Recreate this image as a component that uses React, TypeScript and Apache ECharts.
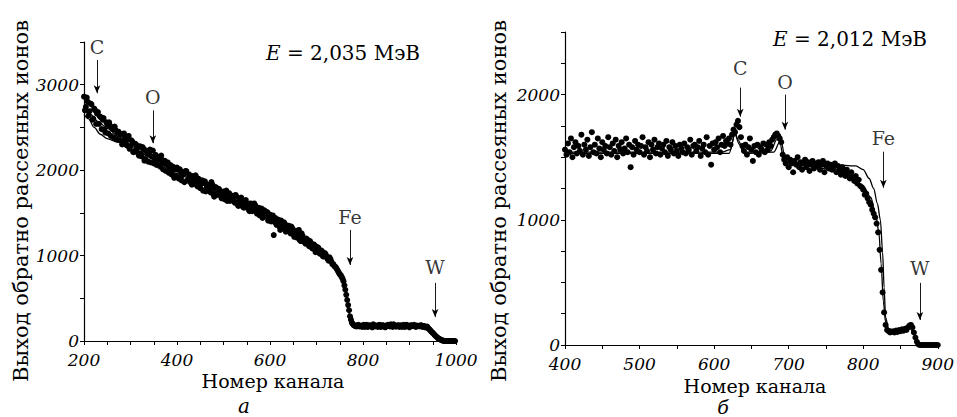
import React, { useEffect, useRef } from 'react';
import * as echarts from 'echarts';

// ---------- data ----------
const leftStart = 200;
const leftStep = 4;
const leftCounts = [
  2860, 2740, 2800, 2690, 2770, 2600, 2700, 2660, 2540, 2620,
  2590, 2470, 2560, 2430, 2520, 2500, 2380, 2470, 2440, 2350,
  2420, 2330, 2380, 2290, 2400, 2280, 2330, 2220, 2300, 2200,
  2280, 2160, 2250, 2130, 2200, 2190, 2090, 2230, 2140, 2060,
  2150, 2040, 2120, 2080, 1990, 2090, 2020, 1950, 2040, 1930,
  2030, 1900, 1980, 1940, 1860, 1990, 1880, 1920, 1830, 1900,
  1940, 1810, 1880, 1840, 1760, 1870, 1800, 1820, 1740, 1830,
  1690, 1800, 1730, 1760, 1670, 1750, 1700, 1640, 1730, 1660,
  1700, 1620, 1690, 1580, 1660, 1640, 1560, 1650, 1590, 1520,
  1600, 1540, 1590, 1490, 1560, 1520, 1440, 1530, 1480, 1410,
  1480, 1410, 1240, 1440, 1380, 1340, 1410, 1320, 1370, 1290,
  1350, 1260, 1320, 1220, 1290, 1250, 1180, 1260, 1200, 1140,
  1190, 1110, 1150, 1080, 1120, 1060, 1090, 1020, 1050, 990,
  1010, 960, 980, 930, 900, 870, 840, 800, 770, 730,
  650, 540, 420, 290, 215, 185, 175, 185, 170, 180,
  180, 165, 190, 170, 175, 160, 185, 175, 165, 190,
  170, 180, 160, 185, 175, 195, 165, 180, 170, 185,
  175, 165, 190, 170, 180, 160, 185, 175, 170, 180,
  175, 185, 165, 175, 160, 150, 130, 105, 85, 60,
  40, 25, 12, 5, 0, 0, 0, 0, 0, 0,
];
// second sweep of channels (202, 206, ...)
const leftStart2 = 202;
const leftCounts2 = [
  2700, 2850, 2640, 2780, 2590, 2720, 2540, 2680, 2630, 2480,
  2610, 2440, 2530, 2560, 2400, 2480, 2510, 2360, 2450, 2420,
  2300, 2430, 2310, 2360, 2250, 2350, 2210, 2310, 2260, 2170,
  2190, 2270, 2110, 2230, 2100, 2240, 2160, 2080, 2180, 2120,
  2060, 2170, 2010, 2110, 2060, 1970, 2060, 2000, 1910, 2010,
  1920, 2010, 1880, 1960, 1990, 1880, 1950, 1850, 1930, 1870,
  1830, 1900, 1790, 1880, 1850, 1750, 1830, 1780, 1860, 1720,
  1800, 1710, 1780, 1700, 1720, 1660, 1760, 1680, 1640, 1700,
  1640, 1710, 1600, 1630, 1680, 1570, 1620, 1610, 1540, 1610,
  1520, 1610, 1530, 1560, 1470, 1550, 1500, 1460, 1510, 1430,
  1400, 1470, 1390, 1360, 1420, 1300, 1350, 1390, 1280, 1330,
  1290, 1340, 1250, 1280, 1210, 1300, 1170, 1230, 1160, 1200,
  1130, 1170, 1090, 1130, 1040, 1100, 1030, 1060, 990, 1030,
  980, 940, 960, 900, 880, 860, 820, 780, 750, 700,
  600, 480, 360, 250, 200, 180, 170, 190, 175, 165,
  190, 175, 165, 185, 170, 195, 170, 180, 185, 165,
  185, 165, 175, 190, 170, 180, 195, 170, 180, 165,
  185, 175, 165, 190, 170, 180, 175, 190, 165, 175,
  170, 180, 175, 160, 170, 140, 115, 95, 70, 50,
  30, 18, 8, 2, 0, 0, 0, 0, 0, 0,
];

const leftCurveA = [
  [200, 2720], [215, 2650], [230, 2570], [250, 2490], [275, 2390], [300, 2300],
  [350, 2150], [400, 1980], [450, 1850], [500, 1720], [550, 1590], [600, 1440],
  [650, 1270], [700, 1090], [715, 1030], [728, 990], [738, 920], [744, 850],
  [750, 790], [758, 700], [764, 540], [770, 330], [775, 220], [782, 185],
  [840, 178], [900, 178], [935, 172], [945, 140], [958, 70], [970, 15],
  [980, 0], [1000, 0],
];
const leftCurveB = [
  [200, 2650], [210, 2600], [222, 2500], [235, 2420], [250, 2370], [270, 2330],
  [300, 2270], [350, 2130], [400, 1960], [450, 1840], [500, 1710], [550, 1580],
  [600, 1430], [650, 1260], [700, 1070], [720, 1000], [735, 930], [745, 850],
  [752, 790], [760, 650], [766, 480], [772, 280], [778, 200], [786, 180],
  [900, 175], [938, 165], [950, 110], [962, 45], [972, 8], [985, 0], [1000, 0],
];

const rightStart = 400;
const rightStep = 2;
const rightCounts = [
  1560, 1520, 1610, 1540, 1650, 1500, 1580, 1620, 1530, 1590,
  1550, 1680, 1520, 1600, 1560, 1640, 1510, 1580, 1700, 1540,
  1600, 1530, 1650, 1570, 1500, 1620, 1560, 1590, 1530, 1660,
  1580, 1520, 1610, 1550, 1640, 1500, 1590, 1560, 1620, 1530,
  1570, 1650, 1540, 1600, 1420, 1580, 1520, 1630, 1560, 1600,
  1540, 1590, 1660, 1520, 1580, 1550, 1620, 1500, 1600, 1560,
  1640, 1530, 1580, 1610, 1520, 1570, 1600, 1540, 1630, 1510,
  1580, 1560, 1620, 1530, 1590, 1550, 1510, 1600, 1570, 1540,
  1610, 1530, 1580, 1560, 1640, 1520, 1590, 1600, 1550, 1580,
  1630, 1510, 1570, 1600, 1540, 1660, 1520, 1590, 1440, 1610,
  1560, 1620, 1580, 1650, 1540, 1600, 1670, 1590, 1630, 1610,
  1650, 1600, 1680, 1720, 1700, 1760, 1790, 1740, 1660, 1590,
  1550, 1600, 1520, 1580, 1650, 1560, 1470, 1590, 1540, 1600,
  1520, 1580, 1560, 1610, 1540, 1600, 1560, 1620, 1590, 1640,
  1660, 1680, 1690, 1670, 1650, 1620, 1520, 1480, 1450, 1500,
  1420, 1480, 1450, 1380, 1470, 1440, 1500, 1420, 1460, 1400,
  1450, 1480, 1420, 1460, 1390, 1440, 1470, 1410, 1450, 1430,
  1460, 1400, 1440, 1470, 1380, 1430, 1450, 1410, 1440, 1400,
  1420, 1450, 1380, 1430, 1400, 1360, 1420, 1390, 1350, 1400,
  1370, 1330, 1380, 1340, 1310, 1350, 1290, 1320, 1270, 1260,
  1240, 1200, 1210, 1170, 1140, 1120, 1080, 1050, 1020, 970,
  900, 760, 600, 420, 260, 160, 120, 110, 100, 105,
  110, 100, 115, 105, 120, 110, 125, 115, 130, 120,
  140, 155, 160, 140, 100, 60, 25, 5, 0, 0,
  0, 0, 0, 0, 0, 0, 0, 0, 0, 0,
  0,
];

const rightCurveA = [
  [400, 1540], [610, 1540], [622, 1560], [628, 1700], [632, 1640], [640, 1540],
  [676, 1550], [684, 1640], [690, 1620], [696, 1470], [710, 1450], [760, 1440],
  [790, 1430], [800, 1400], [808, 1330], [814, 1250], [819, 1130], [823, 1000],
  [826, 740], [828, 460], [830, 220], [834, 130], [845, 110], [858, 135],
  [864, 150], [869, 80], [874, 15], [880, 0], [900, 0],
];
const rightCurveB = [
  [400, 1530], [620, 1530], [628, 1680], [634, 1600], [640, 1530], [680, 1540],
  [688, 1620], [694, 1460], [720, 1430], [760, 1400], [785, 1350], [800, 1270],
  [810, 1180], [817, 1040], [821, 900], [824, 650], [827, 350], [830, 180],
  [834, 120], [850, 110], [862, 145], [868, 90], [873, 20], [878, 0], [900, 0],
];

// element markers: [name, channel, labelValue, arrowStart, arrowEnd]
const leftElements: [string, number, number, number, number][] = [
  ['C', 228, 3440, 3290, 2900],
  ['O', 348, 2855, 2700, 2315],
  ['Fe', 772, 1450, 1300, 890],
  ['W', 955, 865, 680, 280],
];
const rightElements: [string, number, number, number, number][] = [
  ['C', 635, 2216, 2056, 1824],
  ['O', 695, 2104, 2000, 1720],
  ['Fe', 827, 1656, 1544, 1256],
  ['W', 876, 616, 496, 200],
];

const leftEnergy = '2,035';
const rightEnergy = '2,012';
const yTitle = 'Выход обратно рассеяных ионов';
const xTitle = 'Номер канала';

// ---------- chart ----------
const FONT = 'DejaVu Serif';
const INK = '#000000';

function axisX(gridIndex: number, min: number, max: number, labelEvery: number, margin: number) {
  return {
    gridIndex, type: 'value', min, max, interval: 50,
    axisLine: { show: true, onZero: false, lineStyle: { color: INK, width: 1.2 } },
    axisTick: { show: true, length: 4, lineStyle: { color: INK, width: 1 } },
    axisLabel: {
      formatter: (v: number) => (v % labelEvery === 0 ? String(v) : ''),
      fontFamily: FONT, fontStyle: 'italic', fontSize: 17, lineHeight: 16, color: INK, margin,
    },
    splitLine: { show: false },
  };
}
function axisY(gridIndex: number, max: number, interval: number) {
  return {
    gridIndex, type: 'value', min: 0, max, interval,
    axisLine: { show: true, onZero: false, lineStyle: { color: INK, width: 1.2 } },
    axisTick: { show: true, length: 4, lineStyle: { color: INK, width: 1 } },
    axisLabel: {
      formatter: (v: number) => (v % 1000 === 0 ? String(v) : ''),
      fontFamily: FONT, fontStyle: 'italic', fontSize: 17, lineHeight: 14, color: INK, margin: 5,
    },
    splitLine: { show: false },
  };
}

function markerSeries(idx: number, els: [string, number, number, number, number][]) {
  return {
    type: 'scatter', xAxisIndex: idx, yAxisIndex: idx, symbolSize: 0, silent: true, z: 5,
    data: els.map((e) => ({ value: [e[1], e[2]], name: e[0] })),
    label: {
      show: true, position: 'inside', formatter: (p: any) => p.name,
      fontFamily: FONT, fontSize: 19, lineHeight: 19, color: INK,
    },
    markLine: {
      silent: true, symbol: ['none', 'arrow'], symbolSize: [5, 8],
      lineStyle: { color: INK, width: 0.9, type: 'solid' },
      label: { show: false },
      data: els.map((e) => [{ coord: [e[1], e[3]] }, { coord: [e[1], e[4]] }]),
    },
  };
}

function curve(idx: number, pts: number[][]) {
  return {
    type: 'line', xAxisIndex: idx, yAxisIndex: idx, data: pts, showSymbol: false,
    smooth: 0.3, smoothMonotone: 'x', silent: true, z: 3,
    lineStyle: { color: INK, width: 1.3 },
  };
}

function dots(idx: number, start: number, step: number, vals: number[], size: number) {
  return {
    type: 'scatter', xAxisIndex: idx, yAxisIndex: idx, symbol: 'circle', symbolSize: size,
    silent: true, z: 2,
    itemStyle: { color: INK, opacity: 1 },
    data: vals.map((v, i) => [start + i * step, v]),
  };
}

function energyText(x: number, y: number, val: string) {
  return {
    type: 'text', x, y,
    style: {
      text: `{i|E} = ${val} МэВ`,
      font: `20px "${FONT}"`, fill: INK, verticalAlign: 'middle', align: 'left', lineHeight: 22,
      rich: { i: { fontFamily: FONT, fontStyle: 'italic', fontSize: 20, lineHeight: 22, fill: INK, color: INK } },
    },
  };
}

function plainText(x: number, y: number, text: string, opts: any = {}) {
  const size = opts.size || 20;
  return {
    type: 'text', x, y, rotation: opts.rotation || 0,
    style: {
      text, font: `${opts.italic ? 'italic ' : ''}${size}px "${FONT}"`,
      fill: INK, align: 'center', verticalAlign: 'middle', lineHeight: size,
    },
  };
}

export default function App() {
  const ref = useRef<HTMLDivElement>(null);
  useEffect(() => {
    if (!ref.current) return;
    const chart = echarts.init(ref.current, undefined, { renderer: 'svg' });
    chart.setOption({
      animation: false,
      backgroundColor: '#ffffff',
      grid: [
        { left: 84, top: 42, width: 372, height: 299 },
        { left: 565, top: 32, width: 378, height: 313 },
      ],
      xAxis: [axisX(0, 200, 1000, 200, 11), axisX(1, 400, 900, 100, 11)],
      yAxis: [axisY(0, 3500, 500), axisY(1, 2500, 250)],
      series: [
        dots(0, leftStart, leftStep, leftCounts, 6),
        dots(0, leftStart2, leftStep, leftCounts2, 6),
        curve(0, leftCurveA),
        curve(0, leftCurveB),
        markerSeries(0, leftElements),
        dots(1, rightStart, rightStep, rightCounts, 6),
        curve(1, rightCurveA),
        curve(1, rightCurveB),
        markerSeries(1, rightElements),
      ],
      graphic: [
        energyText(266, 53, leftEnergy),
        energyText(773, 39, rightEnergy),
        plainText(21, 201, yTitle, { rotation: Math.PI / 2, size: 21 }),
        plainText(499, 201, yTitle, { rotation: Math.PI / 2, size: 21 }),
        plainText(273, 381, xTitle, { size: 19 }),
        plainText(755, 386, xTitle, { size: 19 }),
        plainText(244, 406, 'а', { italic: true, size: 20 }),
        plainText(723, 407, 'б', { italic: true, size: 19 }),
      ],
    });
    return () => chart.dispose();
  }, []);
  return (
    <div
      ref={ref}
      style={{ position: 'fixed', left: 0, top: 0, width: 957, height: 417, background: '#fff' }}
    />
  );
}
